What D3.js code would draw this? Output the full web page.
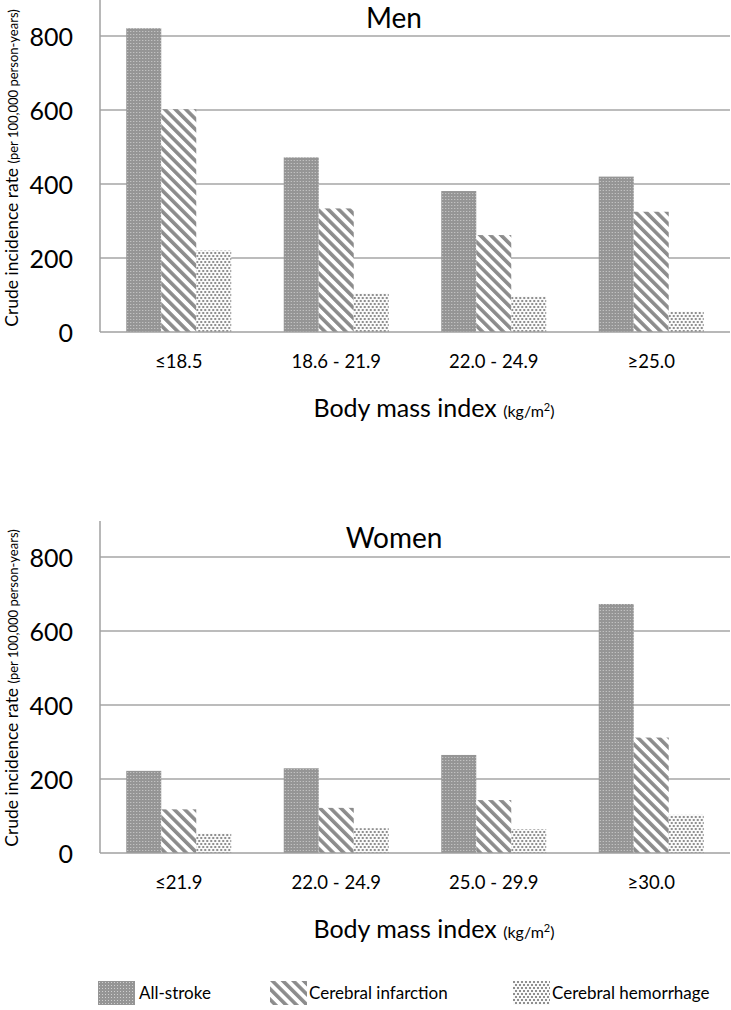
<!DOCTYPE html>
<html>
<head>
<meta charset="utf-8">
<script src="https://cdn.jsdelivr.net/npm/d3@7"></script>
<style>
  html, body { margin: 0; padding: 0; background: #fff; }
  svg { display: block; font-family: Lato, "Open Sans", sans-serif; }
</style>
</head>
<body>
<svg id="chart" width="731" height="1010"></svg>
<script>
// ---- data ----
const series = ["All-stroke", "Cerebral infarction", "Cerebral hemorrhage"];
const menCategories = ["≤18.5", "18.6 - 21.9", "22.0 - 24.9", "≥25.0"];
const menAllStroke = [821, 472, 381, 420];
const menInfarction = [602, 334, 262, 325];
const menHemorrhage = [220, 105, 97, 55];
const womenCategories = ["≤21.9", "22.0 - 24.9", "25.0 - 29.9", "≥30.0"];
const womenAllStroke = [222, 229, 265, 673];
const womenInfarction = [118, 122, 143, 312];
const womenHemorrhage = [53, 67, 64, 103];
const yTicks = [0, 200, 400, 600, 800];
const yMax = 900;

const svg = d3.select("#chart");
const defs = svg.append("defs");

// patterns
const p1 = defs.append("pattern").attr("id", "pat0").attr("patternUnits", "userSpaceOnUse")
  .attr("width", 3).attr("height", 3);
p1.append("rect").attr("width", 3).attr("height", 3).attr("fill", "#959595");
p1.append("rect").attr("x", 1).attr("y", 1).attr("width", 1).attr("height", 1).attr("fill", "#cfcfcf");

const p2 = defs.append("pattern").attr("id", "pat1").attr("patternUnits", "userSpaceOnUse")
  .attr("width", 7.4).attr("height", 7.4).attr("patternTransform", "rotate(-45)");
p2.append("rect").attr("width", 7.4).attr("height", 7.4).attr("fill", "#fff");
p2.append("rect").attr("width", 3.6).attr("height", 7.4).attr("fill", "#8c8c8c");

const p3 = defs.append("pattern").attr("id", "pat2").attr("patternUnits", "userSpaceOnUse")
  .attr("width", 4).attr("height", 6);
p3.append("rect").attr("width", 4).attr("height", 6).attr("fill", "#fafafa");
p3.append("rect").attr("x", 0).attr("y", 0).attr("width", 2).attr("height", 2).attr("fill", "#8f8f8f");
p3.append("rect").attr("x", 2).attr("y", 3).attr("width", 2).attr("height", 2).attr("fill", "#8f8f8f");

const fills = ["url(#pat0)", "url(#pat1)", "url(#pat2)"];

function panel(opts) {
  const { categories, values, title, y0, axisTop, titleY, yTitleCenter } = opts;
  const g = svg.append("g");
  const x = d3.scaleBand().domain(categories).range([100, 730]).paddingInner(1/3).paddingOuter(1/6);
  const xi = d3.scaleBand().domain(series).range([0, x.bandwidth()]);
  const y = d3.scaleLinear().domain([0, yMax]).range([y0, y0 - 333]);

  // gridlines
  g.selectAll("line.grid").data(yTicks.filter(d => d > 0)).join("line")
    .attr("x1", 100).attr("x2", 730)
    .attr("y1", d => y(d)).attr("y2", d => y(d))
    .attr("stroke", "#a6a6a6").attr("stroke-width", 1.5);

  // bars
  const groups = g.selectAll("g.cat").data(categories).join("g")
    .attr("transform", d => `translate(${x(d)},0)`);
  groups.selectAll("rect").data((c, ci) => series.map((s, si) => ({ s, si, v: values[si][ci] })))
    .join("rect")
    .attr("x", d => xi(d.s))
    .attr("width", xi.bandwidth())
    .attr("y", d => y(d.v))
    .attr("height", d => y(0) - y(d.v))
    .attr("fill", d => fills[d.si]);

  // axes lines
  g.append("line").attr("x1", 100).attr("x2", 100).attr("y1", axisTop).attr("y2", y0)
    .attr("stroke", "#a0a0a0").attr("stroke-width", 1.5);
  g.append("line").attr("x1", 100).attr("x2", 730).attr("y1", y0).attr("y2", y0)
    .attr("stroke", "#a0a0a0").attr("stroke-width", 1.5);

  // y tick labels
  g.selectAll("text.yt").data(yTicks).join("text")
    .attr("x", 73).attr("y", d => y(d))
    .attr("text-anchor", "end").attr("dominant-baseline", "central")
    .attr("font-size", 25).attr("fill", "#000")
    .text(d => d);

  // category labels
  g.selectAll("text.xc").data(categories).join("text")
    .attr("x", d => x(d) + x.bandwidth() / 2).attr("y", y0 + 36)
    .attr("text-anchor", "middle").attr("font-size", 18.5).attr("fill", "#000")
    .text(d => d);

  // title
  g.append("text").attr("x", 394).attr("y", titleY).attr("text-anchor", "middle")
    .attr("font-size", 28).attr("fill", "#000").text(title);

  // x axis title
  const xt = g.append("text").attr("x", 434).attr("y", y0 + 85).attr("text-anchor", "middle")
    .attr("fill", "#000");
  xt.append("tspan").attr("font-size", 25).text("Body mass index ");
  xt.append("tspan").attr("font-size", 16).text(" (kg/m");
  xt.append("tspan").attr("font-size", 11).attr("dy", -6).text("2");
  xt.append("tspan").attr("font-size", 16).attr("dy", 6).text(")");

  // y axis title
  const yt = g.append("text")
    .attr("transform", `translate(18,${yTitleCenter}) rotate(-90)`)
    .attr("text-anchor", "middle").attr("fill", "#000");
  yt.append("tspan").attr("font-size", 17.5).text("Crude incidence rate ");
  yt.append("tspan").attr("font-size", 13).text("(per 100,000 person-years)");
}

panel({
  categories: menCategories,
  values: [menAllStroke, menInfarction, menHemorrhage],
  title: "Men", y0: 332, axisTop: 0, titleY: 28, yTitleCenter: 168
});
panel({
  categories: womenCategories,
  values: [womenAllStroke, womenInfarction, womenHemorrhage],
  title: "Women", y0: 853, axisTop: 521, titleY: 548, yTitleCenter: 688
});

// legend
const legendX = [98, 270, 513];
const lg = svg.append("g");
const items = lg.selectAll("g").data(series).join("g")
  .attr("transform", (d, i) => `translate(${legendX[i]},981)`);
items.append("rect").attr("width", 37).attr("height", 24).attr("fill", (d, i) => fills[i]);
items.append("text").attr("x", (d, i) => i === 0 ? 41 : 39).attr("y", 18)
  .attr("font-size", 17).attr("fill", "#000").text(d => d);
</script>
</body>
</html>
